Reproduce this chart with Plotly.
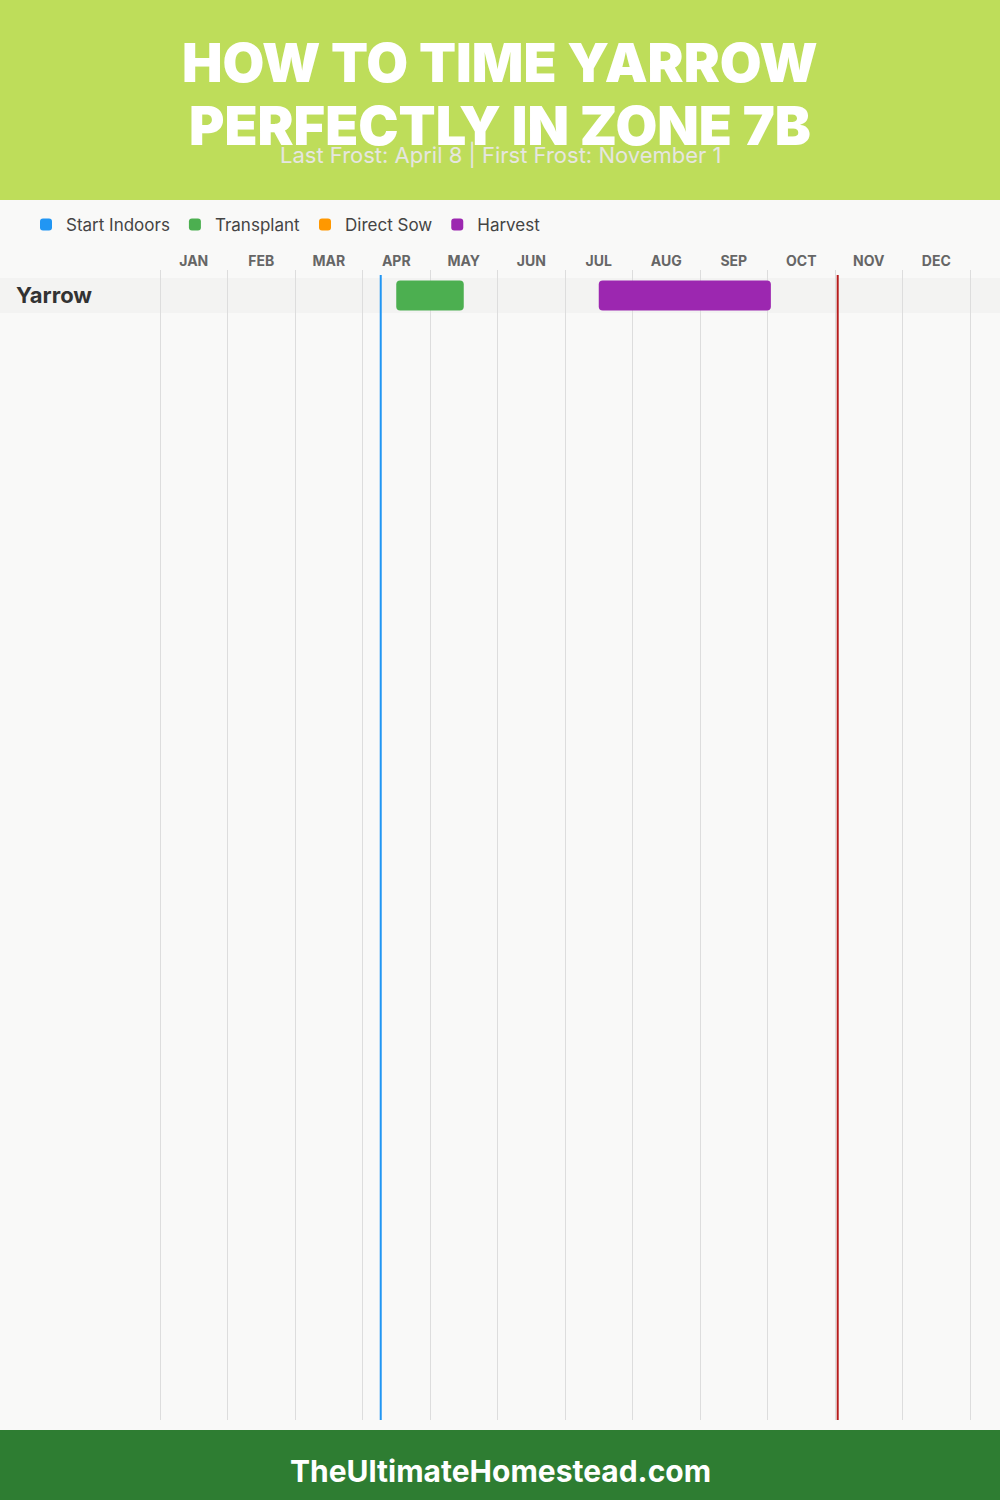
import plotly.graph_objects as go

# ---------------- data ----------------
months = ["JAN", "FEB", "MAR", "APR", "MAY", "JUN", "JUL", "AUG", "SEP", "OCT", "NOV", "DEC"]
crops = ["Yarrow"]
phases = ["Start Indoors", "Transplant", "Direct Sow", "Harvest"]
phase_colors = ["#2196f3", "#4caf50", "#ff9800", "#9c27b0"]
# month-index positions (0 = Jan 1, 12 = Dec 31)
phase_start = {"Start Indoors": [None], "Transplant": [3.5], "Direct Sow": [None], "Harvest": [6.5]}
phase_end = {"Start Indoors": [None], "Transplant": [4.5], "Direct Sow": [None], "Harvest": [9.05]}
last_frost = 3.27    # April 8 (as drawn)
first_frost = 10.04  # November 1 (as drawn)
title_lines = ["HOW TO TIME YARROW", "PERFECTLY IN ZONE 7B"]
subtitle = "Last Frost: April 8 | First Frost: November 1"
footer = "TheUltimateHomestead.com"

W, H = 1000, 1500
FONT = "Inter"
MONTH_PX = 67.5

def py(px):
    return 1 - px / H

fig = go.Figure()

# bars
for ph, col in zip(phases, phase_colors):
    xs, bases, ys = [], [], []
    for i, c in enumerate(crops):
        s, e = phase_start[ph][i], phase_end[ph][i]
        if s is not None:
            xs.append(e - s)
            bases.append(s)
            ys.append(i)
    if not xs:
        xs, bases, ys = [None], [None], [None]
    fig.add_trace(go.Bar(
        x=xs, base=bases, y=ys, orientation="h", name=ph,
        marker=dict(color=col, line=dict(width=0), cornerradius=4),
        width=30 / 35, hoverinfo="skip", showlegend=True,
    ))

# frost lines
ytop = -0.7286 + 5 / 35
ybot = 32.129
fig.add_trace(go.Scatter(x=[last_frost, last_frost], y=[ytop, ybot], mode="lines",
                         line=dict(color="#2196f3", width=2), showlegend=False, hoverinfo="skip"))
fig.add_trace(go.Scatter(x=[first_frost, first_frost], y=[ytop, ybot], mode="lines",
                         line=dict(color="#b71c1c", width=2), showlegend=False, hoverinfo="skip"))

shapes = []
# header and footer bands
shapes.append(dict(type="rect", xref="paper", yref="paper", x0=0, x1=1, y0=py(200), y1=1,
                   fillcolor="#bedd5a", line=dict(width=0), layer="below"))
shapes.append(dict(type="rect", xref="paper", yref="paper", x0=0, x1=1, y0=0, y1=py(1430),
                   fillcolor="#2e7d32", line=dict(width=0), layer="below"))
# row bands
for i, c in enumerate(crops):
    shapes.append(dict(type="rect", xref="paper", yref="y", x0=0, x1=1, y0=i - 0.5, y1=i + 0.5,
                       fillcolor="#f3f3f2", line=dict(width=0), layer="between"))

annotations = []
for i, c in enumerate(crops):
    annotations.append(dict(text=c, x=14 / W, xref="paper", y=i, yref="y", xanchor="left",
                            yanchor="middle", showarrow=False,
                            font=dict(family=FONT, size=22, color="#333333", weight=700)))
for k, t in enumerate(title_lines):
    annotations.append(dict(text=t, x=0.5, xref="paper", y=py(62 + 63 * k), yref="paper",
                            xanchor="center", yanchor="middle", showarrow=False,
                            font=dict(family=FONT, size=54, color="white", weight=900)))
annotations.append(dict(text=subtitle, x=0.5, xref="paper", y=py(155), yref="paper",
                        xanchor="center", yanchor="middle", showarrow=False,
                        font=dict(family=FONT, size=22, color="#e6e6e0")))
annotations.append(dict(text=footer, x=0.5, xref="paper", y=py(1471), yref="paper",
                        xanchor="center", yanchor="middle", showarrow=False,
                        font=dict(family=FONT, size=30, color="white", weight=700)))

padpx = 4
pad = padpx / MONTH_PX  # margin so the edge grid lines are drawn
fig.update_layout(
    width=W, height=H, margin=dict(l=0, r=0, t=0, b=0),
    paper_bgcolor="#f9f9f8", plot_bgcolor="rgba(0,0,0,0)",
    barmode="overlay", shapes=shapes, annotations=annotations,
    font=dict(family=FONT),
    legend=dict(orientation="h", x=26 / W, y=py(225), xanchor="left", yanchor="middle",
                font=dict(family=FONT, size=17, color="#444444"), bgcolor="rgba(0,0,0,0)",
                itemclick=False, traceorder="normal"),
    xaxis=dict(domain=[(160 - padpx) / W, (970 + padpx) / W], range=[-pad, 12 + pad], side="top",
               tickvals=[m + 0.5 for m in range(12)], ticktext=months,
               showgrid=False, zeroline=False, showline=False, ticks="",
               tickfont=dict(family=FONT, size=14, color="#666666", weight=700),
               minor=dict(tickvals=list(range(13)), showgrid=True, gridcolor="#dddddd", gridwidth=1, ticks=""),
               fixedrange=True),
    yaxis=dict(domain=[py(1420), py(270)], range=[32.129, -0.7286], showgrid=False,
               zeroline=False, showticklabels=False, showline=False, fixedrange=True),
)

fig.write_html("out.html", config={"displayModeBar": False},
               post_script="document.body.style.margin='0';")
